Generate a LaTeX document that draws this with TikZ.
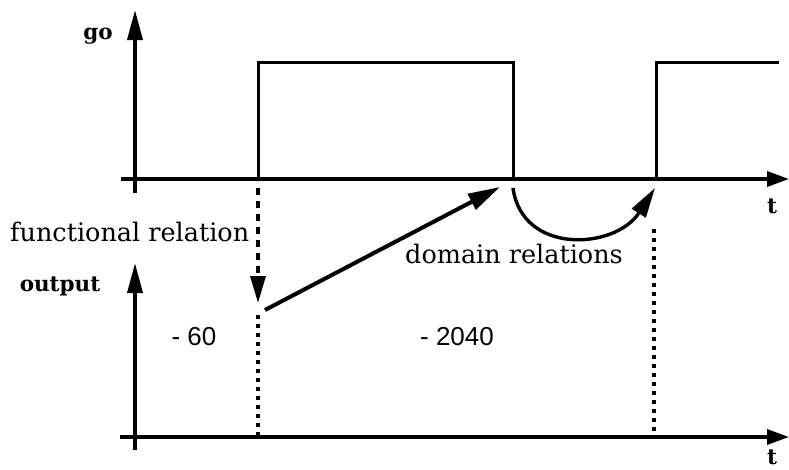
\documentclass[tikz,border=0pt]{standalone}
\usepackage{fontspec}
\setmainfont{DejaVu Serif}[BoldFont={DejaVu Serif Bold}]
\newfontfamily\numfont{Liberation Sans}
\usetikzlibrary{arrows.meta}
\begin{document}
\begin{tikzpicture}[x=1pt,y=-1pt,
  yaxis/.style={line width=3.6pt,-{Triangle[length=30pt,width=15pt]}},
  xaxis/.style={line width=3.6pt,-{Triangle[length=22pt,width=15pt]}},
  pulse/.style={line width=3pt},
  relarrow/.style={line width=4pt,-{Triangle[length=32pt,width=17pt]}},
  curvearrow/.style={line width=3.4pt,-{Triangle[length=30pt,width=16pt]}},
  dashedarrow/.style={line width=3.4pt,dash pattern=on 7pt off 6pt,-{Triangle[length=27pt,width=15pt]}},
  dotline/.style={line width=3.4pt,dash pattern=on 3.5pt off 5.5pt},
  lbl/.style={inner sep=0pt,font=\fontsize{25.5}{30}\selectfont},
  blbl/.style={inner sep=0pt,font=\fontsize{21.5}{25}\selectfont\bfseries},
  num/.style={inner sep=0pt,font=\fontsize{26}{30}\selectfont\numfont}]
\useasboundingbox (0,0) rectangle (789,469);
% coordinates
\coordinate (gyb) at (135,193);
\coordinate (gyt) at (135,10);
\coordinate (gxl) at (121,179);
\coordinate (gxr) at (789,179);
\coordinate (oyb) at (135,450);
\coordinate (oyt) at (135,263);
\coordinate (oxl) at (120,437);
\coordinate (oxr) at (789,437);
\coordinate (r1) at (258,179);
\coordinate (f1) at (513,179);
\coordinate (r2) at (656,179);
% axes
\draw[yaxis] (gyb) -- (gyt);
\draw[xaxis] (gxl) -- (gxr);
\draw[yaxis] (oyb) -- (oyt);
\draw[xaxis] (oxl) -- (oxr);
% pulses
\draw[pulse] (r1) -- (258,62) -- (513,62) -- (f1);
\draw[pulse] (r2) -- (656,62) -- (779,62);
% functional relation
\coordinate (fstart) at (258,188);
\coordinate (ftip) at (258,303);
\coordinate (fdot) at (258,315);
\draw[dashedarrow] (fstart) -- (ftip);
\draw[dotline] (fdot) -- (258,435);
% domain relations
\coordinate (dstart) at (265,310);
\coordinate (dtip) at (500,187);
\draw[relarrow] (dstart) -- (dtip);
\coordinate (cstart) at (513,188);
\coordinate (ctip) at (655,188);
\draw[curvearrow] (cstart) .. controls (522,255) and (615,250) .. (ctip);
\draw[dotline] (654,229) -- (654,432);
% labels
\node[blbl] (go) at (98,36) {go};
\node[blbl] (out) at (60,286) {output};
\node[blbl] (t1) at (772,206) {t};
\node[blbl] (t2) at (772,457) {t};
\node[lbl,anchor=base west] (fr) at (10,241) {functional relation};
\node[lbl,anchor=base west] (dr) at (405,263) {domain relations};
\node[num] (n60) at (194,337) {- 60};
\node[num] (n2040) at (457,337) {- 2040};
\end{tikzpicture}
\end{document}
